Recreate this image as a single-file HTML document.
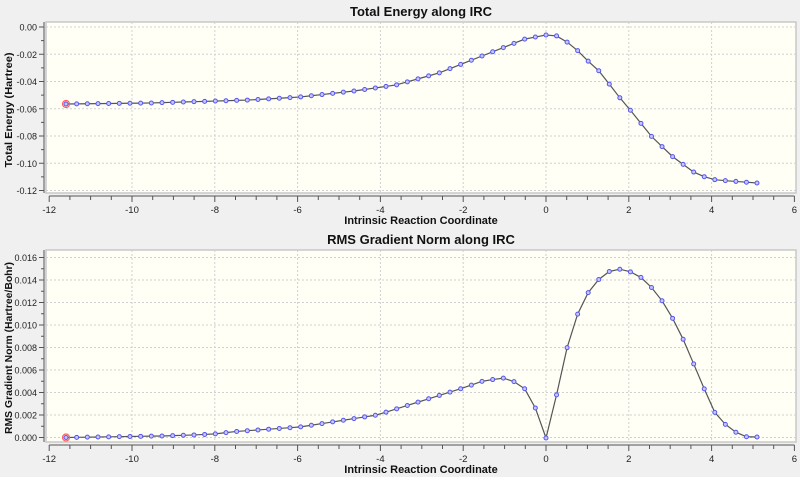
<!DOCTYPE html>
<html><head><meta charset="utf-8"><style>
body{margin:0;background:#f0f0f0;}
svg{display:block;font-family:"Liberation Sans",Arial,sans-serif;}
</style></head><body>
<svg id="s" width="800" height="477" viewBox="0 0 800 477" xmlns="http://www.w3.org/2000/svg"></svg>
<script>
const NS="http://www.w3.org/2000/svg";const s=document.getElementById('s');
function el(t,a,txt){const e=document.createElementNS(NS,t);for(const k in a)e.setAttribute(k,a[k]);if(txt!==undefined)e.textContent=txt;s.appendChild(e);return e;}
const X=u=>546+u*41.4;
function interp(anchors,x){for(let i=0;i<anchors.length-1;i++){const[a,b]=[anchors[i],anchors[i+1]];if(x>=a[0]&&x<=b[0]){return a[1]+(b[1]-a[1])*(x-a[0])/(b[0]-a[0]);}}return anchors[anchors.length-1][1];}
function panel(o){
 el('rect',{x:46,y:o.top,width:750,height:o.bot-o.top,fill:'#fffff6',stroke:'#c8c8c8','stroke-width':1.5});
 for(let u=-10;u<=4;u+=2)el('line',{x1:X(u),x2:X(u),y1:o.top,y2:o.bot,stroke:'#d0d0d0','stroke-dasharray':'2,2'});
 o.yt.forEach(t=>{if(t.y>o.top+2&&t.y<o.bot-2)el('line',{x1:46,x2:796,y1:t.y,y2:t.y,stroke:'#d0d0d0','stroke-dasharray':'2,2'});});
 el('line',{x1:44,x2:44,y1:o.top,y2:o.bot,stroke:'#555'});
 o.yt.forEach((t,i)=>{el('line',{x1:39,x2:44,y1:t.y,y2:t.y,stroke:'#555'});
  el('text',{x:37,y:t.y+3.5,'font-size':9,'text-anchor':'end',fill:'#222'},t.l);
  if(i<o.yt.length-1){const m=(t.y+o.yt[i+1].y)/2;el('line',{x1:41,x2:44,y1:m,y2:m,stroke:'#555'});}});
 const ay=o.bot+3;
 el('line',{x1:X(-12),x2:X(6),y1:ay,y2:ay,stroke:'#555'});
 for(let u=-12;u<=6.001;u+=0.5){const maj=Math.abs(u%2)<1e-6;el('line',{x1:X(u),x2:X(u),y1:ay,y2:ay+(maj?6:4),stroke:'#555'});
  if(maj)el('text',{x:X(u),y:ay+17,'font-size':9.5,'text-anchor':'middle',fill:'#222'},String(u));}
 el('text',{x:421,y:ay+28,'font-size':11,'font-weight':'bold','text-anchor':'middle',fill:'#111'},'Intrinsic Reaction Coordinate');
 el('text',{x:421,y:o.top-6,'font-size':13,'font-weight':'bold','text-anchor':'middle',fill:'#111'},o.title);
 const a={x:0,y:0,'font-size':10,'font-weight':'bold','text-anchor':'middle',fill:'#111',transform:`translate(12,${o.cy}) rotate(-90)`};
 if(o.yl){a.textLength=o.yl;a.lengthAdjust='spacingAndGlyphs';}
 el('text',a,o.ylab);
 const pts=[];for(let i=0;i<=45;i++)pts.push(66+i*(480/45));for(let i=1;i<=20;i++)pts.push(546+i*(211/20));
 const P=pts.map(x=>[x,interp(o.a,x)]);
 el('polyline',{points:P.map(p=>p.join(',')).join(' '),fill:'none',stroke:'#555','stroke-width':1.2});
 P.forEach(p=>el('circle',{cx:p[0],cy:p[1],r:2,fill:'#c8c8ff',stroke:'#5555ee','stroke-width':1}));
 el('circle',{cx:P[0][0],cy:P[0][1],r:3.5,fill:'none',stroke:'#ff6060','stroke-width':1.2});
}
const ytTop=[];for(let i=0;i<=6;i++)ytTop.push({y:27+i*27.25,l:i==0?'0.00':'-'+(i*0.02).toFixed(2)});
panel({top:22,bot:193,cy:110,title:'Total Energy along IRC',ylab:'Total Energy (Hartree)',yl:115,yt:ytTop,
 a:[[66,104],[150,103],[250,100],[300,97],[354,91],[396,85],[439,73],[482,56],[525,39],[546,35],[556,35.6],[567,42],[577,50],[588,61],[599,71],[610,85],[620,98],[631,111],[652,137],[673,157],[684,165],[695,173],[705,177],[716,180],[737,181.5],[757,183]]});
const ytBot=[];for(let i=0;i<=8;i++)ytBot.push({y:437.5-i*22.5,l:(i*0.002).toFixed(3)});ytBot.reverse();
panel({top:250,bot:442,cy:348,title:'RMS Gradient Norm along IRC',ylab:'RMS Gradient Norm (Hartree/Bohr)',yl:172,yt:ytBot,
 a:[[66,437.5],[98,437],[130,436.5],[161,436],[193,435],[214,434],[236,431.5],[300,427],[377,415],[463,388],[483,381],[503,378],[513,381],[525,389],[535,407],[546,438],[557,393],[567,348],[578,313],[589,291],[600,278],[610,271],[621,269],[631,272],[642,278],[652,288],[663,302],[673,319],[684,341],[695,367],[706,393],[716,415],[727,426],[737,433],[747,437],[757,437]]});
</script>
</body></html>
